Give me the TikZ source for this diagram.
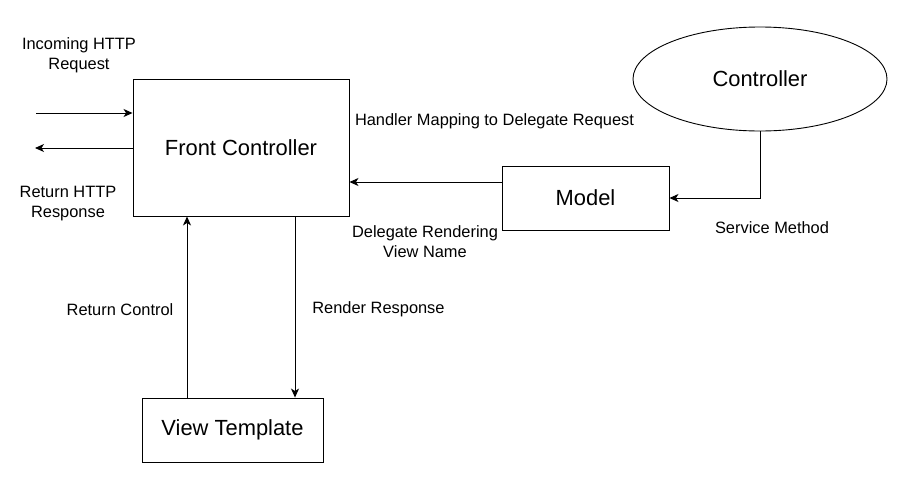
\documentclass[tikz,border=0pt]{standalone}
\usepackage{fontspec}
\setmainfont{Liberation Sans}
\usetikzlibrary{shapes.geometric,arrows.meta}

\tikzset{
  block/.style={draw, line width=0.9pt, inner sep=0pt, font=\fontsize{21.9}{26}\selectfont},
  lbl/.style={inner sep=0.75pt, align=center, font=\fontsize{16.4}{20}\selectfont},
  flow/.style={line width=0.9pt, -{Stealth[length=9pt,width=8pt,inset=2.5pt]}}
}

\begin{document}
\begin{tikzpicture}[x=1pt,y=1pt,yscale=-1,xscale=1]
\useasboundingbox (0,0) rectangle (901,477);

%Shape: Rectangle
\node [block, minimum width=216, minimum height=137] (fc) at (241,147.5) {Front Controller};
%Shape: Rectangle
\node [block, minimum width=167, minimum height=64] (model) at (585.5,198) {Model};
%Shape: Rectangle
\node [block, minimum width=181, minimum height=64] (view) at (232.5,430) {View Template};
%Shape: Ellipse
\node [block, ellipse, minimum width=254, minimum height=104] (ctrl) at (760,79) {Controller};

%Free ends
\coordinate (in) at (36,113);
\coordinate (out) at (35,148);

%Straight Lines
\draw [flow] (in) -- (in -| fc.west);
\draw [flow] (out -| fc.west) -- (out);
\draw [flow] (model.west |- 0,182) -- (fc.east |- 0,182);
\draw [flow] (ctrl.south) |- (model.east);
\draw [flow] (view.north -| 187,0) -- (fc.south -| 187,0);
\draw [flow] (fc.south -| 295,0) -- (view.north -| 295,0);

% Text Node
\node [lbl] (inlbl) at (79,55) {Incoming HTTP\\Request};
% Text Node
\node [lbl] (outlbl) at (68,204) {Return HTTP\\Response};
% Text Node
\node [lbl] (hmlbl) at (494.5,121) {Handler Mapping to Delegate Request};
% Text Node
\node [lbl] (drlbl) at (425,242) {Delegate Rendering\\View Name};
% Text Node
\node [lbl] (smlbl) at (772,228) {Service Method};
% Text Node
\node [lbl] (rclbl) at (120,309.5) {Return Control};
% Text Node
\node [lbl] (rrlbl) at (378.5,309.5) {Render Response};

\end{tikzpicture}
\end{document}
